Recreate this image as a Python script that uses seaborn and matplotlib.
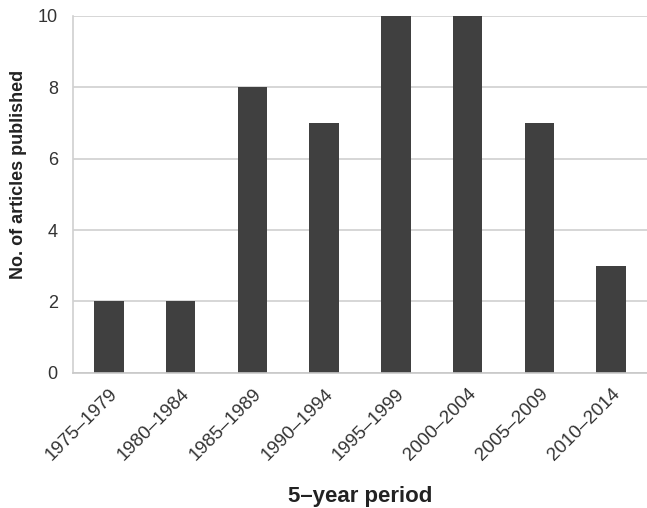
import matplotlib
matplotlib.use("Agg")
import matplotlib.pyplot as plt
import seaborn as sns
import pandas as pd

periods = ["1975–1979", "1980–1984", "1985–1989", "1990–1994",
           "1995–1999", "2000–2004", "2005–2009", "2010–2014"]
articles = [2, 2, 8, 7, 10, 10, 7, 3]
y_ticks = [0, 2, 4, 6, 8, 10]

sns.set_style("white")
plt.rcParams['font.family'] = ['Liberation Sans', 'DejaVu Sans']

df = pd.DataFrame({"period": periods, "articles": articles})

fig = plt.figure(figsize=(6.47, 5.08), dpi=100)
ax = fig.add_axes([0.113, 0.266, 0.887, 0.703])
ax.set_axisbelow(True)
ax.yaxis.grid(True, color="#d0d0d0", linewidth=1.2)
sns.barplot(data=df, x="period", y="articles", color="#404040", width=0.41,
            saturation=1, linewidth=0, ax=ax)
ax.set_ylim(0, 10)
ax.set_yticks(y_ticks)
ax.set_xlim(-0.5, len(periods) - 0.5)
for s in ["top", "right"]:
    ax.spines[s].set_visible(False)
ax.spines["left"].set_color("#d0d0d0")
ax.spines["bottom"].set_color("#c8c8c8")
ax.spines["left"].set_linewidth(1.2)
ax.spines["bottom"].set_linewidth(1.2)
ax.tick_params(axis="y", length=5, color="#d0d0d0", width=1.2, labelsize=13,
               labelcolor="#333333", pad=6)
ax.tick_params(axis="x", length=0, labelsize=13.5, labelcolor="#333333", pad=9)
plt.setp(ax.get_xticklabels(), rotation=45, ha="right", rotation_mode="anchor")
ax.set_xlabel("5–year period", fontsize=16, fontweight="bold", color="#222222", labelpad=16)
ax.set_ylabel("No. of articles published", fontsize=13, fontweight="bold", color="#222222")
ax.yaxis.set_label_coords(-0.08, 0.555)
fig.savefig("out.png", dpi=100)
